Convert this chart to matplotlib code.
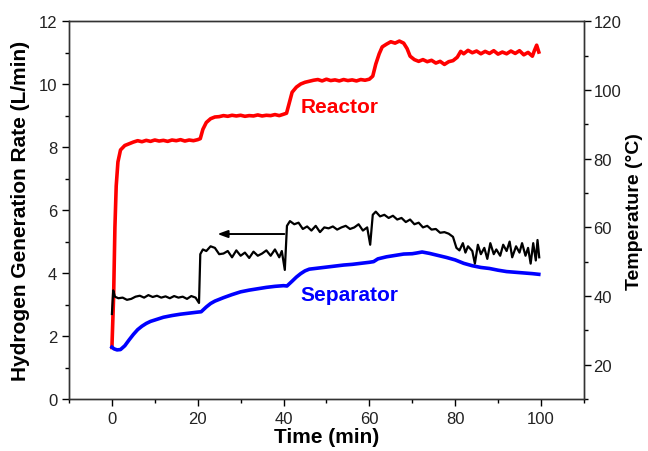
import numpy as np
import matplotlib
matplotlib.use("Agg")
import matplotlib.pyplot as plt
from matplotlib.ticker import MultipleLocator

# ---------- DATA ----------
# hydrogen generation rate, left axis (L/min)
h2_time = [0.0, 0.3, 0.7, 1.5, 2.5, 3.5, 4.5, 5.5, 6.5, 7.5, 8.5, 9.5, 10.5, 11.5, 12.5,
           13.5, 14.5, 15.5, 16.5, 17.5, 18.5, 19.5, 20.3, 20.6, 21.2, 22.0, 23.0, 24.0,
           25.0, 26.0, 27.0, 28.0, 29.0, 30.0, 31.0, 32.0, 33.0, 34.0, 35.0, 36.0, 37.0,
           38.0, 39.0, 39.6, 40.3, 40.8, 41.5, 42.5, 43.5, 44.5, 45.5, 46.5, 47.5, 48.5,
           49.5, 50.5, 51.5, 52.5, 53.5, 54.5, 55.5, 56.5, 57.5, 58.5, 59.5, 60.2, 60.8,
           61.5, 62.5, 63.5, 64.5, 65.5, 66.5, 67.5, 68.5, 69.5, 70.5, 71.5, 72.5, 73.5,
           74.5, 75.5, 76.5, 77.5, 78.5, 79.5, 80.3, 81.0, 81.8, 82.4, 83.0, 84.0, 84.6,
           85.3, 86.0, 86.8, 87.5, 88.2, 89.0, 89.6, 90.5, 91.2, 92.0, 92.7, 93.3, 94.2,
           95.0, 95.6, 96.4, 97.0, 97.6, 98.2, 98.8, 99.2, 99.6]
h2_rate = [2.70, 3.45, 3.25, 3.20, 3.22, 3.15, 3.18, 3.25, 3.28, 3.22, 3.30, 3.24, 3.28, 3.22, 3.26,
           3.20, 3.27, 3.22, 3.25, 3.18, 3.27, 3.22, 3.05, 4.60, 4.75, 4.70, 4.85, 4.80,
           4.60, 4.62, 4.70, 4.50, 4.72, 4.55, 4.65, 4.48, 4.68, 4.55, 4.62, 4.72, 4.55,
           4.75, 4.50, 4.70, 4.10, 5.50, 5.65, 5.55, 5.60, 5.40, 5.48, 5.35, 5.50, 5.30,
           5.45, 5.42, 5.48, 5.38, 5.45, 5.50, 5.40, 5.45, 5.55, 5.35, 5.45, 4.90, 5.85,
           5.95, 5.80, 5.85, 5.75, 5.82, 5.70, 5.75, 5.62, 5.70, 5.55, 5.60, 5.45, 5.50,
           5.38, 5.40, 5.28, 5.30, 5.25, 5.15, 4.80, 4.72, 4.95, 4.65, 4.85, 4.70, 4.30,
           4.90, 4.60, 4.80, 4.45, 4.95, 4.60, 4.75, 4.55, 4.90, 4.70, 5.00, 4.50, 4.85,
           4.65, 4.95, 4.55, 4.80, 4.30, 4.95, 4.40, 5.05, 4.50]

# reactor temperature, right axis (deg C)
reactor_time = [0.0, 0.4, 0.7, 1.0, 1.4, 2.0, 3.0, 4.0, 5, 6, 7, 8, 9, 10, 11, 12, 13, 14,
                15, 16, 17, 18, 19, 20, 20.6, 21.2, 22, 23, 24, 25, 26, 27, 28, 29, 30, 31,
                32, 33, 34, 35, 36, 37, 38, 39, 40, 40.7, 41.3, 42, 43, 44, 45, 46, 47, 48,
                49, 50, 51, 52, 53, 54, 55, 56, 57, 58, 59, 60, 60.8, 61.5, 62.3, 63, 64,
                65, 66, 67, 68, 68.8, 69.5, 70.5, 71.5, 72.5, 73.5, 74.5, 75.5, 76.5, 77.5,
                78.5, 79.5, 80.5, 81.3, 82, 83, 84, 85, 86, 87, 88, 89, 90, 91, 92, 93, 94,
                95, 96, 97, 98, 98.5, 99, 99.5]
reactor_temp = [25.0, 40.0, 60.0, 72.0, 79.0, 82.5, 83.8, 84.3, 84.8, 85.2, 84.9, 85.3, 85.0,
                85.4, 85.1, 85.3, 85.0, 85.4, 85.2, 85.5, 85.1, 85.4, 85.2, 85.5, 85.8, 88.5,
                90.5, 91.6, 92.1, 92.2, 92.5, 92.3, 92.6, 92.4, 92.6, 92.3, 92.5, 92.4, 92.7,
                92.4, 92.6, 92.5, 92.8, 92.5, 92.9, 93.2, 96.0, 99.3, 100.8, 101.7, 102.2,
                102.5, 102.8, 103.0, 102.6, 103.1, 102.7, 102.9, 102.6, 103.0, 102.7, 102.9,
                102.6, 103.0, 102.8, 103.1, 104.0, 107.5, 110.5, 112.5, 113.3, 114.0, 113.6,
                114.2, 113.6, 112.0, 109.8, 108.8, 108.3, 108.8, 108.2, 108.6, 107.8, 108.3,
                107.4, 108.2, 108.5, 109.5, 111.2, 110.5, 111.5, 110.8, 111.3, 110.5, 111.2,
                110.6, 111.4, 110.4, 111.0, 110.5, 111.3, 110.6, 111.4, 110.2, 110.9, 109.8,
                111.5, 113.0, 111.0]

# separator temperature, right axis (deg C)
separator_time = [0, 0.5, 1.2, 2, 3, 4, 5, 6, 7, 8, 9, 10, 12, 14, 16, 18, 20, 20.8, 22, 23,
                  24, 26, 28, 30, 32, 34, 36, 38, 40, 40.8, 42, 43, 44, 45, 46, 48, 50, 52,
                  54, 56, 58, 60, 61, 62, 64, 66, 68, 70, 71, 72.3, 74, 76, 78, 80, 82, 84,
                  86, 88, 90, 92, 94, 96, 98, 99.5]
separator_temp = [25.1, 24.6, 24.3, 24.4, 25.5, 27.2, 28.8, 30.2, 31.2, 32.0, 32.6, 33.0, 33.8,
                  34.3, 34.7, 35.0, 35.3, 35.4, 36.8, 37.8, 38.5, 39.5, 40.4, 41.2, 41.7, 42.1,
                  42.5, 42.8, 43.0, 42.9, 44.3, 45.5, 46.5, 47.3, 47.8, 48.1, 48.4, 48.7, 49.0,
                  49.2, 49.5, 49.8, 50.0, 50.8, 51.4, 51.8, 52.2, 52.3, 52.5, 52.8, 52.4, 51.8,
                  51.2, 50.5, 49.5, 48.8, 48.3, 48.0, 47.5, 47.1, 46.9, 46.7, 46.5, 46.3]

# ---------- STYLE ----------
FIGSIZE = (6.48, 4.52)
DPI = 100
RED, BLUE = "#ff0000", "#0000ff"
LABEL_FS = 15
TICK_FS = 12


def style_ticks(ax, side):
    ax.tick_params(axis="both", which="major", direction="out", length=5, width=1,
                   labelsize=TICK_FS, labelcolor="#222222")
    ax.tick_params(axis="both", which="minor", direction="out", length=3, width=1)
    ax.tick_params(axis="x", top=False)
    if side == "left":
        ax.tick_params(axis="y", left=True, right=False)
    else:
        ax.tick_params(axis="y", left=False, right=True, pad=2)


def main():
    plt.rcParams["font.family"] = ["Liberation Sans", "DejaVu Sans"]

    fig = plt.figure(figsize=FIGSIZE, dpi=DPI)
    ax = fig.add_axes([0.1065, 0.115, 0.7945, 0.836])
    ax2 = ax.twinx()

    # temperatures on the right axis
    ax2.plot(reactor_time, reactor_temp, color=RED, lw=2.6, solid_joinstyle="round")
    ax2.plot(separator_time, separator_temp, color=BLUE, lw=2.6)
    # hydrogen rate on the left axis, drawn on top
    ax.set_zorder(ax2.get_zorder() + 1)
    ax.patch.set_visible(False)
    ax.plot(h2_time, h2_rate, color="black", lw=1.6)

    ax.annotate("", xy=(24.6, 5.24), xytext=(40.2, 5.24),
                arrowprops=dict(arrowstyle="-|>,head_length=0.6,head_width=0.22",
                                color="black", lw=1.4, shrinkA=0, shrinkB=0))

    ax.text(53.0, 9.3, "Reactor", color=RED, fontsize=15, fontweight="bold",
            ha="center", va="center")
    ax.text(55.4, 3.33, "Separator", color=BLUE, fontsize=15, fontweight="bold",
            ha="center", va="center")

    ax.set_xlim(-10, 110)
    ax.set_ylim(0, 12)
    ax2.set_ylim(10, 120)

    ax.xaxis.set_major_locator(MultipleLocator(20))
    ax.xaxis.set_minor_locator(MultipleLocator(10))
    ax.yaxis.set_major_locator(MultipleLocator(2))
    ax.yaxis.set_minor_locator(MultipleLocator(1))
    ax2.yaxis.set_major_locator(MultipleLocator(20))
    ax2.yaxis.set_minor_locator(MultipleLocator(10))

    style_ticks(ax, "left")
    style_ticks(ax2, "right")

    ax.set_xlabel("Time (min)", fontsize=LABEL_FS, fontweight="bold", labelpad=1)
    ax.set_ylabel("Hydrogen Generation Rate (L/min)", fontsize=LABEL_FS,
                  fontweight="bold", labelpad=6)
    ax2.set_ylabel("Temperature (\u00b0C)", fontsize=14, fontweight="bold",
                   labelpad=3)

    for a in (ax, ax2):
        for s in a.spines.values():
            s.set_linewidth(1.0)
            s.set_color("#333333")

    fig.savefig("out.png", dpi=DPI)
    plt.close(fig)


if __name__ == "__main__":
    main()
